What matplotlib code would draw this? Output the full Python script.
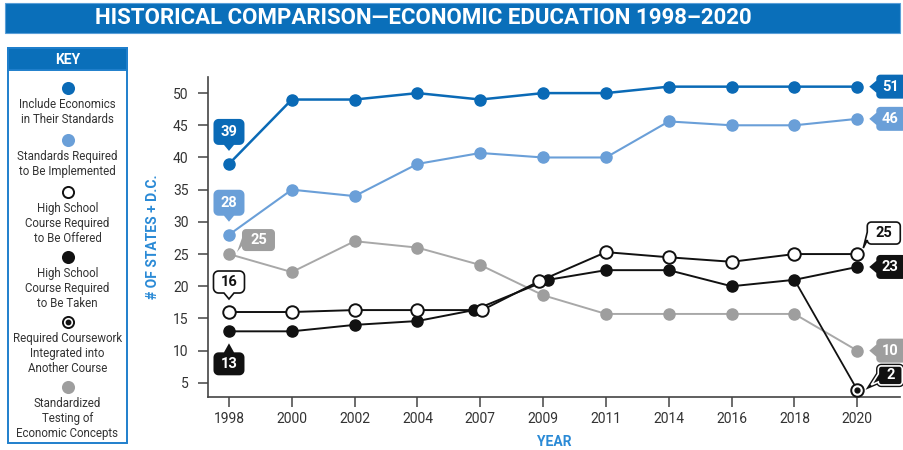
import numpy as np
import matplotlib
matplotlib.use("Agg")
import matplotlib.pyplot as plt
import matplotlib.transforms as mtransforms
from matplotlib.path import Path
from matplotlib.patches import PathPatch, Rectangle

# ---------------- data ----------------
years = ["1998", "2000", "2002", "2004", "2007", "2009", "2011", "2014", "2016", "2018", "2020"]
include_econ = [39, 49, 49, 50, 49, 50, 50, 51, 51, 51, 51]
standards_impl = [28, 35, 34, 39, 40.7, 40, 40, 45.6, 45, 45, 46]
course_offered = [16, 16, 16.3, 16.3, 16.3, 20.8, 25.3, 24.5, 23.8, 25, 25]
course_taken = [13, 13, 14, 14.6, 16.3, 21, 22.5, 22.5, 20, 21, 23]
integrated = [np.nan] * 10 + [2]
testing = [25, 22.2, 27, 26, 23.3, 18.6, 15.7, 15.7, 15.7, 15.7, 10]

key_labels = [
    "Include Economics\nin Their Standards",
    "Standards Required\nto Be Implemented",
    "High School\nCourse Required\nto Be Offered",
    "High School\nCourse Required\nto Be Taken",
    "Required Coursework\nIntegrated into\nAnother Course",
    "Standardized\nTesting of\nEconomic Concepts",
]
y_ticks = [5, 10, 15, 20, 25, 30, 35, 40, 45, 50]

# ---------------- style ----------------
DARK_BLUE = "#0a6ab6"
LIGHT_BLUE = "#6a9fd8"
GRAY = "#9e9e9e"
BLACK = "#111111"
BANNER = "#0a6fba"
AXLABEL = "#2a8ad6"
TXT = "#333333"
NARROW = ["Liberation Sans Narrow", "Roboto", "DejaVu Sans"]
plt.rcParams["font.family"] = NARROW

fig = plt.figure(figsize=(9.04, 4.5), dpi=100)

# title banner
fig.patches.append(Rectangle((5 / 904, 1 - 33 / 450), 895 / 904, 30 / 450,
                             transform=fig.transFigure, facecolor=BANNER,
                             edgecolor="#5a9fd8", lw=0.8))
fig.text(423 / 904, 1 - 18 / 450,
         "HISTORICAL COMPARISON\u2014ECONOMIC EDUCATION 1998\u20132020",
         ha="center", va="center", color="white", fontsize=16, weight="bold")

# ---------------- main axes ----------------
ax = fig.add_axes([208 / 904, 53 / 450, 692 / 904, 320 / 450])
x = np.arange(len(years))
ax.set_xlim(-0.334, 10.68)
ax.set_ylim(2.8, 52.5)
for s in ["top", "right"]:
    ax.spines[s].set_visible(False)
for s in ["left", "bottom"]:
    ax.spines[s].set_color("#444444")
    ax.spines[s].set_linewidth(1.2)
ax.set_xticks(x)
ax.set_xticklabels(years)
ax.set_yticks(y_ticks)
ax.tick_params(axis="both", length=7, width=1.1, color="#444444",
               labelcolor=TXT, labelsize=10)
ax.tick_params(axis="x", pad=4)
ax.tick_params(axis="y", pad=7)
ax.set_ylabel("# OF STATES + D.C.", color=AXLABEL, fontsize=10, weight="bold", labelpad=9)
ax.set_xlabel("YEAR", color=AXLABEL, fontsize=10, weight="bold", labelpad=6)

# small horizontal nudges where the source separates overlapping markers
nudge_offered = np.zeros(len(years)); nudge_offered[4] = 0.03; nudge_offered[5] = -0.06
nudge_taken = np.zeros(len(years)); nudge_taken[4] = -0.1; nudge_taken[5] = 0.08

MS = 8
ax.plot(x, testing, color="#a8a8a8", lw=1.4, marker="o", ms=MS, mfc=GRAY, mec=GRAY, zorder=2)
ax.plot(x, standards_impl, color=LIGHT_BLUE, lw=1.5, marker="o", ms=MS, mfc=LIGHT_BLUE, mec=LIGHT_BLUE, zorder=3)
ax.plot(x, include_econ, color=DARK_BLUE, lw=1.8, marker="o", ms=MS, mfc=DARK_BLUE, mec=DARK_BLUE, zorder=3)

# integrated coursework: connector from the taken series in 2018; plotted at the axis floor
floor_val = 3.9
integ_y = np.maximum(np.array(integrated, dtype=float), floor_val)
last = len(years) - 1
ax.plot([x[last - 1] + nudge_taken[last - 1], x[last]], [course_taken[last - 1], integ_y[last]],
        color=BLACK, lw=1.3, zorder=4)
ax.plot(x + nudge_taken, course_taken, color=BLACK, lw=1.4, marker="o", ms=MS,
        mfc=BLACK, mec=BLACK, zorder=5)
ax.plot(x + nudge_offered, course_offered, color=BLACK, lw=1.4, marker="o", ms=MS + 1,
        mfc="white", mec=BLACK, mew=1.4, zorder=6)
ax.plot(x, integ_y, ls="none", marker="o", ms=MS + 1, mfc="white", mec=BLACK, mew=1.4,
        zorder=7, clip_on=False)
ax.plot(x, integ_y, ls="none", marker="o", ms=3.5, mfc=BLACK, mec=BLACK, zorder=8, clip_on=False)


# ---------------- callouts ----------------
def bubble_vertices(w, h, r, side, pos, half, tip):
    pts = []

    def arc(cx, cy, a0, a1):
        for t in np.linspace(a0, a1, 7):
            pts.append((cx + r * np.cos(t), cy + r * np.sin(t)))

    pts.append((r, 0))
    if side == "bottom":
        pts += [(pos - half, 0), tip, (pos + half, 0)]
    arc(w - r, r, -np.pi / 2, 0)
    arc(w - r, h - r, 0, np.pi / 2)
    if side == "top":
        pts += [(pos + half, h), tip, (pos - half, h)]
    arc(r, h - r, np.pi / 2, np.pi)
    if side == "left":
        pts += [(0, pos + half), tip, (0, pos - half)]
    arc(r, r, np.pi, 1.5 * np.pi)
    pts.append(pts[0])
    return np.array(pts)


def callout(xv, yv, text, origin, w, h, side, pos, half, tip, fc, ec=None, tc="white",
            lw=0.0, r=5, text_off=None, double=False):
    verts = bubble_vertices(w, h, r, side, pos, half, tip)
    codes = [Path.MOVETO] + [Path.LINETO] * (len(verts) - 2) + [Path.CLOSEPOLY]
    path = Path(verts, codes)
    scale = fig.dpi / 100.0
    tr = (mtransforms.Affine2D().translate(*origin).scale(scale)
          + mtransforms.ScaledTranslation(xv, yv, ax.transData))
    if double:
        ax.add_patch(PathPatch(path, transform=tr, facecolor=fc, edgecolor=BLACK,
                               lw=3.2, clip_on=False, zorder=9))
        ax.add_patch(PathPatch(path, transform=tr, facecolor=fc, edgecolor="white",
                               lw=1.2, clip_on=False, zorder=9))
    else:
        ax.add_patch(PathPatch(path, transform=tr, facecolor=fc,
                               edgecolor=ec if ec else fc, lw=lw if ec else 0.0,
                               clip_on=False, zorder=9))
    if text_off is None:
        text_off = (origin[0] + w / 2, origin[1] + h / 2)
    ax.annotate(text, xy=(xv, yv), xytext=(text_off[0] * scale, text_off[1] * scale),
                textcoords="offset pixels", ha="center", va="center", fontsize=10.5,
                weight="bold", color=tc, zorder=10, annotation_clip=False)


def fmt(v):
    return f"{v:g}"


first, lastx = x[0], x[-1]
# left side (1998)
callout(first, include_econ[0], fmt(include_econ[0]), (-15.5, 19), 31, 26, "bottom", 15.5, 5, (15.5, -6), DARK_BLUE)
callout(first, standards_impl[0], fmt(standards_impl[0]), (-15.5, 19), 31, 26, "bottom", 15.5, 5, (15.5, -6), LIGHT_BLUE)
callout(first, testing[0], fmt(testing[0]), (13, 3), 33, 22, "left", 9, 4, (-5, -1), GRAY, r=4)
callout(first, course_offered[0], fmt(course_offered[0]), (-15.5, 19), 31, 22, "bottom", 15.5, 5, (15.5, -6),
        "white", ec=BLACK, tc=BLACK, lw=1.2)
callout(first, course_taken[0], fmt(course_taken[0]), (-15.5, -44), 31, 23, "top", 15.5, 5, (15.5, 32), BLACK)

# right side (2020)
callout(lastx, include_econ[-1], fmt(include_econ[-1]), (19, -12), 30, 24, "left", 12, 6, (-7, 12), DARK_BLUE, r=4,
        text_off=(33, 0))
callout(lastx, standards_impl[-1], fmt(standards_impl[-1]), (19, -12), 30, 24, "left", 12, 6, (-7, 12), LIGHT_BLUE, r=4,
        text_off=(33, 0))
callout(lastx, course_taken[-1], fmt(course_taken[-1]), (19, -12), 30, 24, "left", 12, 6, (-7, 12), BLACK, r=4,
        text_off=(33, 0))
callout(lastx, testing[-1], fmt(testing[-1]), (19, -12), 30, 24, "left", 12, 6, (-7, 12), GRAY, r=4,
        text_off=(33, 0))
callout(lastx, course_offered[-1], fmt(course_offered[-1]), (10, 10), 33, 22, "left", 8, 4, (-4, -4),
        "white", ec=BLACK, tc=BLACK, lw=1.2, r=4)
callout(lastx, integ_y[-1], fmt(integrated[-1]), (21, 5), 24, 19, "left", 7, 4, (-7, 0), BLACK, r=3,
        double=True)

# ---------------- key ----------------
kax = fig.add_axes([8 / 904, 7 / 450, 119 / 904, 395 / 450])
kax.set_xlim(0, 119)
kax.set_ylim(395, 0)
kax.axis("off")
kax.add_patch(Rectangle((0, 0), 119, 395, facecolor="white", edgecolor="#1f7fcc", lw=1.4, clip_on=False))
kax.add_patch(Rectangle((0, 0), 119, 22, facecolor=BANNER, edgecolor="#1f7fcc", lw=1.4, clip_on=False))
kax.text(59.5, 11.5, "KEY", ha="center", va="center", color="white", fontsize=10, weight="bold")

key_styles = [
    dict(mfc=DARK_BLUE, mec=DARK_BLUE, inner=False),
    dict(mfc=LIGHT_BLUE, mec=LIGHT_BLUE, inner=False),
    dict(mfc="white", mec=BLACK, inner=False),
    dict(mfc=BLACK, mec=BLACK, inner=False),
    dict(mfc="white", mec=BLACK, inner=True),
    dict(mfc=GRAY, mec=GRAY, inner=False),
]
ky = 40
for label, st in zip(key_labels, key_styles):
    nlines = label.count("\n") + 1
    kax.plot([59.5], [ky], marker="o", ms=8, mfc=st["mfc"], mec=st["mec"], mew=1.4, clip_on=False)
    if st["inner"]:
        kax.plot([59.5], [ky], marker="o", ms=3.2, mfc=BLACK, mec=BLACK, clip_on=False)
    kax.text(59.5, ky + 10, label, ha="center", va="top", fontsize=8.3, color=TXT,
             linespacing=1.2)
    ky += 26 + 13 * nlines

fig.savefig("out.png", dpi=100)
